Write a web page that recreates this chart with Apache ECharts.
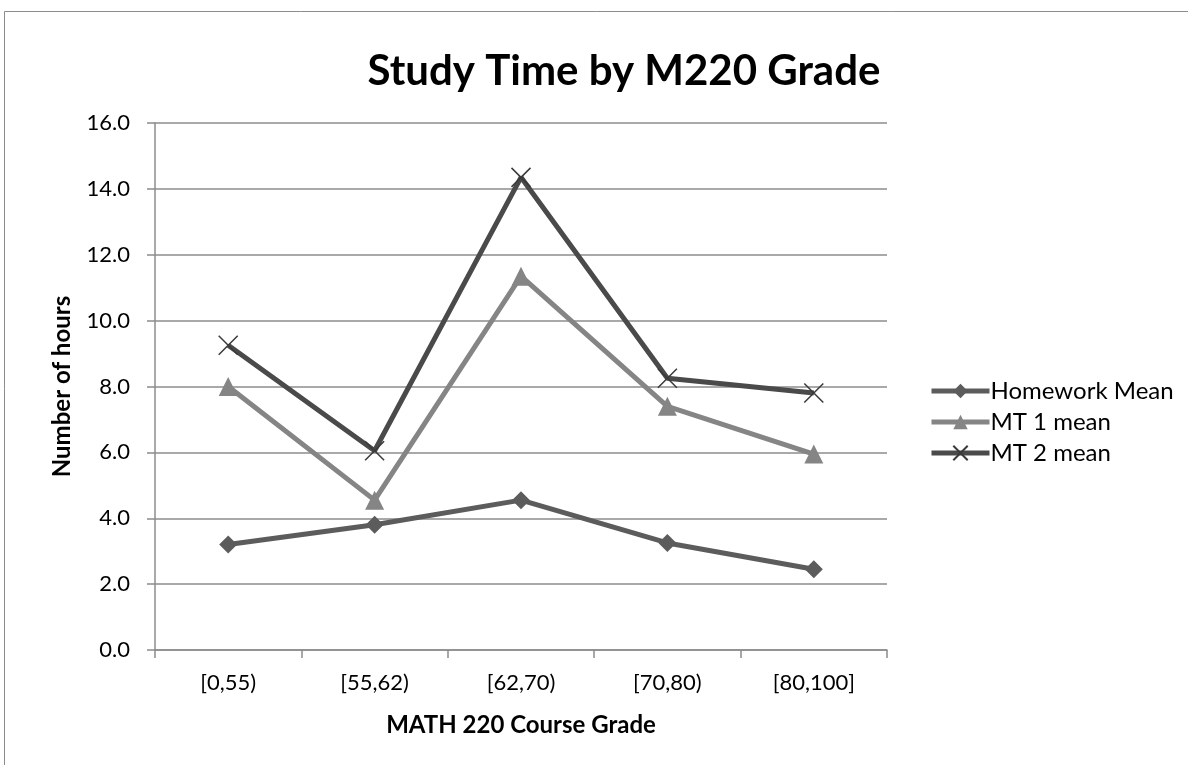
<!DOCTYPE html>
<html>
<head>
<meta charset="utf-8">
<script src="https://cdn.jsdelivr.net/npm/echarts@6/dist/echarts.min.js"></script>
<style>
  html, body { margin: 0; padding: 0; background: #fff; }
  #chart { width: 1188px; height: 765px; }
</style>
</head>
<body>
<div id="chart"></div>
<script>
(function(window){
    // data
    var grades = ['[0,55)', '[55,62)', '[62,70)', '[70,80)', '[80,100]'];
    var homeworkMean = [3.2, 3.8, 4.55, 3.25, 2.45];
    var mt1Mean = [8.0, 4.55, 11.35, 7.4, 5.95];
    var mt2Mean = [9.25, 6.05, 14.35, 8.25, 7.8];
    var yTicks = [0, 2, 4, 6, 8, 10, 12, 14, 16];

    var font = 'Lato, "Open Sans", sans-serif';
    var xMark = 'path://M0,0 L10,10 M10,0 L0,10';

    var chart = echarts.init(document.getElementById('chart'));

    var option = {
        backgroundColor: '#fff',
        animation: false,
        title: {
            text: 'Study Time by M220 Grade',
            left: 619,
            top: 45,
            textAlign: 'center',
            textStyle: { fontFamily: font, fontSize: 42, fontWeight: 'bold', color: '#000' }
        },
        graphic: [{
            type: 'rect',
            shape: { x: 4.5, y: 11.5, width: 1300, height: 900 },
            style: { fill: 'none', stroke: '#8c8c8c', lineWidth: 1 },
            silent: true,
            z: -1
        }],
        legend: {
            orient: 'vertical',
            left: 924,
            top: 374,
            itemWidth: 58,
            itemHeight: 18,
            itemGap: 7,
            lineStyle: { width: 5 },
            textStyle: { fontFamily: font, fontSize: 24, color: '#000', padding: [0, 0, 0, -4] },
            data: ['Homework Mean', 'MT 1 mean', 'MT 2 mean']
        },
        grid: { left: 155, right: 301, top: 123, bottom: 115 },
        xAxis: {
            type: 'category',
            data: grades,
            boundaryGap: true,
            name: 'MATH 220 Course Grade',
            nameLocation: 'middle',
            nameGap: 63,
            nameTextStyle: { fontFamily: font, fontSize: 24, fontWeight: 'bold', color: '#000' },
            axisLine: { lineStyle: { color: '#8c8c8c', width: 1.5 } },
            axisTick: { show: true, length: 8, lineStyle: { color: '#8c8c8c', width: 1.5 } },
            axisLabel: { fontFamily: font, fontSize: 22, color: '#000', margin: 22 },
            splitLine: { show: false }
        },
        yAxis: {
            type: 'value',
            min: yTicks[0],
            max: yTicks[yTicks.length - 1],
            interval: 2,
            name: 'Number of hours',
            nameLocation: 'middle',
            nameRotate: 90,
            nameGap: 81,
            nameTextStyle: { fontFamily: font, fontSize: 24, fontWeight: 'bold', color: '#000' },
            axisLine: { show: true, lineStyle: { color: '#8c8c8c', width: 1.5 } },
            axisTick: { show: true, length: 8, lineStyle: { color: '#8c8c8c', width: 1.5 } },
            axisLabel: {
                fontFamily: font, fontSize: 22, color: '#000', margin: 25,
                formatter: function(v){ return v.toFixed(1); }
            },
            splitLine: { show: true, lineStyle: { color: '#8c8c8c', width: 1.5 } }
        },
        series: [
            {
                name: 'Homework Mean',
                type: 'line',
                data: homeworkMean,
                symbol: 'diamond',
                symbolSize: 18,
                lineStyle: { color: '#5c5c5c', width: 5 },
                itemStyle: { color: '#5c5c5c' }
            },
            {
                name: 'MT 1 mean',
                type: 'line',
                data: mt1Mean,
                symbol: 'triangle',
                symbolSize: 19,
                lineStyle: { color: '#858585', width: 5 },
                itemStyle: { color: '#858585' }
            },
            {
                name: 'MT 2 mean',
                type: 'line',
                data: mt2Mean,
                symbol: xMark,
                symbolSize: 19,
                lineStyle: { color: '#4a4a4a', width: 5 },
                itemStyle: { color: '#4a4a4a', borderColor: '#3a3a3a', borderWidth: 1.5 }
            }
        ]
    };

    chart.setOption(option);
})(window);
</script>
</body>
</html>
